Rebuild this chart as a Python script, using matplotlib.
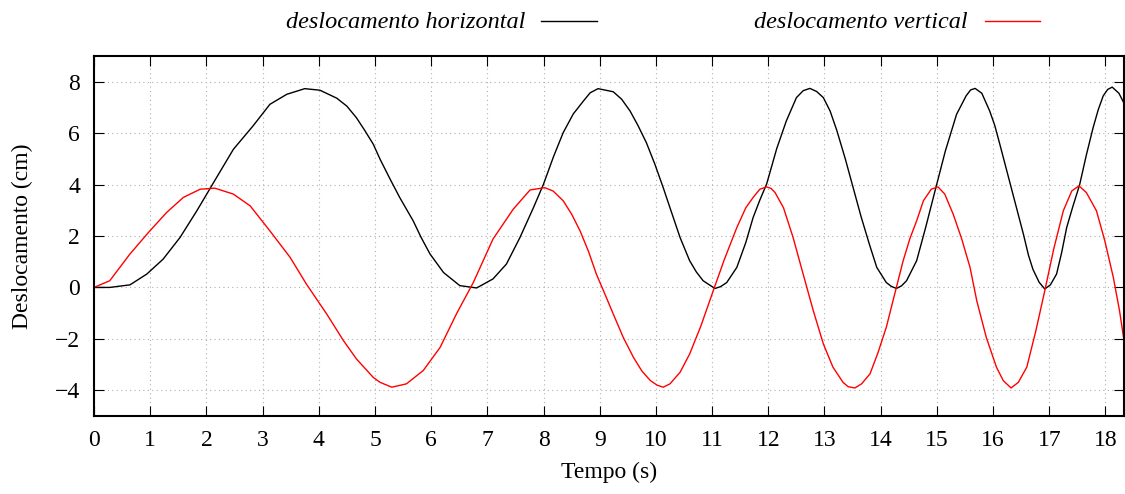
import matplotlib
matplotlib.use('Agg')
from matplotlib import pyplot as plt
from matplotlib.lines import Line2D

# deslocamento horizontal (preto)
t_h = [0, 0.28, 0.64, 0.94, 1.23, 1.53, 1.83, 2.18, 2.48, 2.83, 3.13, 3.43, 3.75, 4.02,
       4.32, 4.5, 4.67, 4.82, 4.97, 5.09, 5.27, 5.44, 5.68, 5.82, 5.98, 6.22, 6.51, 6.81,
       7.1, 7.34, 7.58, 7.82, 8.0, 8.18, 8.35, 8.53, 8.71, 8.83, 8.97, 9.24, 9.39, 9.54,
       9.68, 9.83, 9.98, 10.13, 10.25, 10.43, 10.6, 10.72, 10.84, 11.05, 11.15, 11.26,
       11.44, 11.6, 11.73, 11.85, 11.97, 12.15, 12.32, 12.5, 12.62, 12.74, 12.86, 12.98,
       13.1, 13.22, 13.37, 13.51, 13.65, 13.8, 13.93, 14.1, 14.19, 14.28, 14.37, 14.46,
       14.64, 14.8, 14.99, 15.15, 15.35, 15.52, 15.6, 15.68, 15.8, 15.94, 16.03, 16.12,
       16.3, 16.42, 16.54, 16.63, 16.71, 16.82, 16.92, 17.02, 17.13, 17.22, 17.31, 17.42,
       17.54, 17.66, 17.78, 17.87, 17.96, 18.04, 18.12, 18.24, 18.34]
x_h = [0, 0.0, 0.1, 0.52, 1.1, 1.94, 2.98, 4.27, 5.37, 6.28, 7.12, 7.51, 7.73, 7.67,
       7.36, 7.05, 6.6, 6.1, 5.57, 4.99, 4.21, 3.5, 2.59, 1.95, 1.3, 0.58, 0.07, -0.02,
       0.33, 0.91, 1.94, 3.1, 4.02, 5.1, 6.02, 6.75, 7.25, 7.57, 7.73, 7.61, 7.32, 6.86,
       6.3, 5.63, 4.8, 3.88, 3.1, 1.94, 1.04, 0.6, 0.26, -0.04, 0.03, 0.19,
       0.78, 1.75, 2.72, 3.4, 4.02, 5.4, 6.47, 7.38, 7.65, 7.74, 7.62, 7.38,
       6.86, 6.1, 5.0, 3.88, 2.76, 1.67, 0.78, 0.19, 0.04, -0.04, 0.06, 0.26,
       1.04, 2.33, 3.95, 5.3, 6.73, 7.45, 7.68, 7.74, 7.55, 6.86, 6.3, 5.57,
       4.07, 3.07, 2.07, 1.25, 0.7, 0.2, -0.06, 0.1, 0.52, 1.35, 2.33, 3.15,
       3.99, 5.15, 6.21, 6.9, 7.45, 7.7, 7.79, 7.55, 7.12]

# deslocamento vertical (vermelho)
t_v = [0, 0.28, 0.64, 0.97, 1.29, 1.59, 1.89, 2.15, 2.48, 2.78, 3.13, 3.49, 3.78, 4.14,
       4.44, 4.67, 4.97, 5.09, 5.3, 5.56, 5.86, 6.16, 6.45, 6.75, 7.1, 7.46, 7.76, 8.02,
       8.17, 8.35, 8.5, 8.65, 8.8, 8.94, 9.1, 9.24, 9.42, 9.6, 9.75, 9.9, 10.02, 10.13,
       10.25, 10.43, 10.6, 10.8, 11.02, 11.22, 11.44, 11.6, 11.73, 11.85, 11.97, 12.05,
       12.12, 12.27, 12.44, 12.62, 12.8, 12.98, 13.15, 13.33, 13.42, 13.54, 13.66, 13.81,
       13.95, 14.1, 14.25, 14.4, 14.52, 14.64, 14.76, 14.9, 15.02, 15.14, 15.29, 15.44,
       15.59, 15.71, 15.88, 16.06, 16.18, 16.32, 16.45, 16.6, 16.76, 16.92, 17.08, 17.25,
       17.4, 17.53, 17.66, 17.84, 17.99, 18.14, 18.25, 18.34]
x_v = [0, 0.26, 1.3, 2.14, 2.91, 3.5, 3.82, 3.86, 3.63, 3.17, 2.2, 1.17, 0.13, -1.03,
       -2.07, -2.78, -3.5, -3.69, -3.88, -3.75, -3.23, -2.33, -1.03, 0.19, 1.88, 3.04, 3.79, 3.88,
       3.75, 3.37, 2.85, 2.2, 1.4, 0.52, -0.3, -1.03, -1.95, -2.72, -3.25, -3.62, -3.8, -3.88,
       -3.75, -3.3, -2.59, -1.5, -0.13, 1.1, 2.33, 3.1, 3.5, 3.82, 3.91, 3.85,
       3.69, 3.1, 1.95, 0.52, -0.9, -2.2, -3.1, -3.69, -3.86, -3.91, -3.75, -3.36,
       -2.55, -1.55, -0.25, 1.04, 1.9, 2.59, 3.37, 3.82, 3.91, 3.63, 2.85, 1.9,
       0.78, -0.52, -1.95, -3.1, -3.62, -3.91, -3.69, -3.1, -1.7, -0.13, 1.5, 2.98,
       3.75, 3.95, 3.69, 2.98, 1.8, 0.39, -0.9, -2.2]

xticks = list(range(0, 19))
yticks = [-4, -2, 0, 2, 4, 6, 8]

plt.rcParams['font.family'] = ['Liberation Serif', 'DejaVu Serif']

fig = plt.figure(figsize=(11.25, 4.94), dpi=100)
ax = fig.add_axes([94 / 1125, 78 / 494, 1030 / 1125, 360 / 494])

ax.plot(t_h, x_h, color='black', lw=1.0, solid_joinstyle='round')
ax.plot(t_v, x_v, color='#ff0000', lw=1.0, solid_joinstyle='round')

ax.set_xlim(0, 18.33)
ax.set_ylim(-5, 9)
ax.set_xticks(xticks)
ax.set_yticks(yticks)
ax.set_yticklabels([('\u2212' + str(-v)) if v < 0 else str(v) for v in yticks])
ax.tick_params(direction='in', length=7, width=0.8, top=True, right=True,
               labelsize=17, pad=10)
ax.grid(True, color='#b0b0b0', linestyle=(0, (1, 3)), linewidth=0.8)
for s in ax.spines.values():
    s.set_linewidth(1.5)

ax.set_xlabel('Tempo (s)', fontsize=17, labelpad=8)
ax.set_ylabel('Deslocamento (cm)', fontsize=17, labelpad=16)

# legenda no topo
fig.text(525 / 1125, 1 - 22 / 494, 'deslocamento horizontal', ha='right', va='center',
         fontsize=17.5, style='italic')
fig.add_artist(Line2D([541 / 1125, 597 / 1125], [1 - 21 / 494, 1 - 21 / 494],
                      color='black', lw=1.0, transform=fig.transFigure))
fig.text(968 / 1125, 1 - 22 / 494, 'deslocamento vertical', ha='right', va='center',
         fontsize=17.5, style='italic')
fig.add_artist(Line2D([985 / 1125, 1040 / 1125], [1 - 21 / 494, 1 - 21 / 494],
                      color='#ff0000', lw=1.0, transform=fig.transFigure))

fig.savefig('out.png', dpi=100)
